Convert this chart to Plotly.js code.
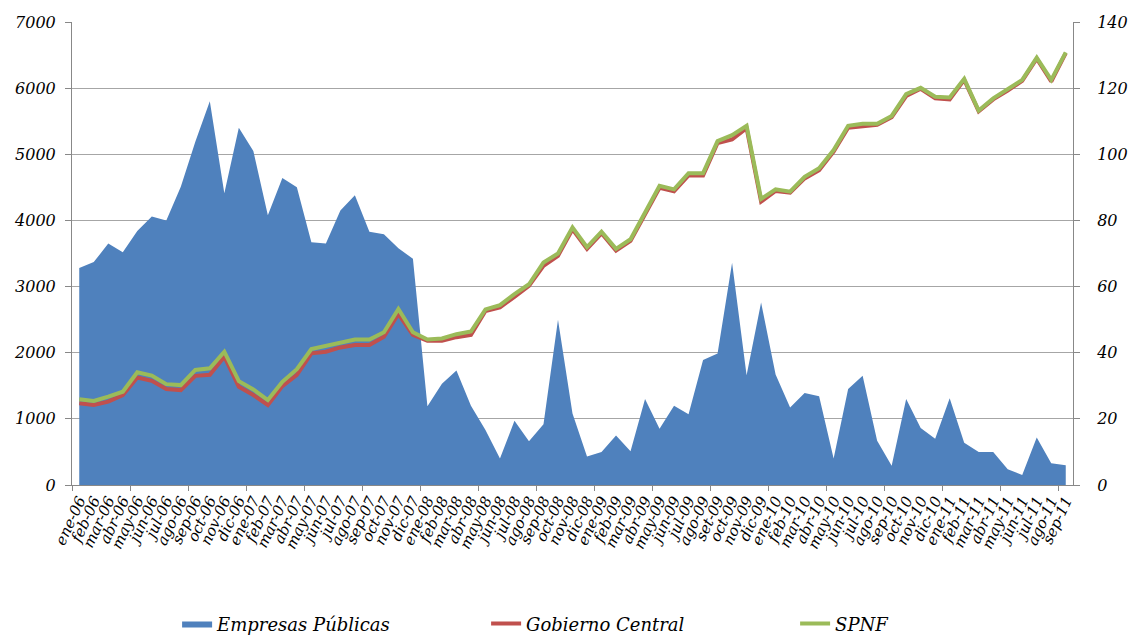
<!DOCTYPE html>
<html>
<head>
<meta charset="utf-8">
<script src="https://cdn.plot.ly/plotly-3.0.1.min.js"></script>
<style>html,body{margin:0;padding:0;background:#fff;}#chart{width:1132px;height:635px;}</style>
</head>
<body>
<div id="chart"></div>
<script>
const months = ["ene-06","feb-06","mar-06","abr-06","may-06","jun-06","jul-06","ago-06","sep-06","oct-06","nov-06","dic-06",
"ene-07","feb-07","mar-07","abr-07","may-07","jun-07","jul-07","ago-07","sep-07","oct-07","nov-07","dic-07",
"ene-08","feb-08","mar-08","abr-08","may-08","jun-08","jul-08","ago-08","sep-08","oct-08","nov-08","dic-08",
"ene-09","feb-09","mar-09","abr-09","may-09","jun-09","jul-09","ago-09","set-09","oct-09","nov-09","dic-09",
"ene-10","feb-10","mar-10","abr-10","may-10","jun-10","jul-10","ago-10","sep-10","oct-10","nov-10","dic-10",
"ene-11","feb-11","mar-11","abr-11","may-11","jun-11","jul-11","ago-11","sep-11"];

const empresasPublicas = [3280,3370,3650,3520,3840,4060,4000,4510,5190,5800,4410,5400,
5050,4080,4640,4500,3670,3650,4150,4380,3830,3790,3580,3420,
1190,1530,1730,1200,830,400,970,660,920,2500,1080,430,
500,750,510,1300,850,1200,1070,1890,1990,3360,1660,2760,
1670,1170,1390,1340,400,1450,1650,670,290,1300,860,700,
1310,640,500,500,240,150,720,330,300];

const gobiernoCentral = [24.7,24.2,25.2,27.2,32.5,31.5,29.0,28.7,33.0,33.3,38.8,29.7,
27.2,24.2,29.9,33.3,39.8,40.3,41.6,42.3,42.3,44.8,51.7,45.4,
43.6,43.6,44.7,45.4,52.6,53.7,56.9,60.2,66.3,69.3,77.3,71.4,
76.1,70.9,73.8,81.6,89.9,88.8,93.6,93.6,103.4,104.5,107.9,85.7,
88.9,88.4,92.7,95.2,100.8,108.0,108.6,108.9,111.2,117.6,119.8,116.9,
116.6,122.5,113.0,116.6,119.3,122.2,128.9,122.0,130.6];

const spnf = [25.9,25.4,26.7,28.2,34.1,33.1,30.5,30.2,34.8,35.3,40.3,31.4,
28.9,25.7,31.2,35.0,41.1,42.1,43.3,44.0,44.0,46.2,53.2,46.2,
44.0,44.3,45.6,46.4,53.1,54.4,57.7,60.7,67.3,70.0,77.9,71.9,
76.6,71.4,74.3,82.3,90.5,89.4,94.3,94.3,104.0,105.8,108.6,86.5,
89.4,88.7,93.2,95.8,101.3,108.6,109.2,109.2,111.6,118.2,120.1,117.4,
117.2,122.8,113.2,116.9,119.6,122.5,129.2,122.5,130.8];

const idx = months.map((m, i) => i);
const FONT = "DejaVu Serif, serif";

const traces = [
  {x: idx, y: empresasPublicas, name: "Empresas Públicas", type: "scatter", mode: "lines",
   fill: "tozeroy", fillcolor: "#4F81BD", line: {color: "#4F81BD", width: 0}, yaxis: "y"},
  {x: idx, y: gobiernoCentral, name: "Gobierno Central", type: "scatter", mode: "lines",
   line: {color: "#C0504D", width: 4}, yaxis: "y2"},
  {x: idx, y: spnf, name: "SPNF", type: "scatter", mode: "lines",
   line: {color: "#9BBB59", width: 4}, yaxis: "y2"}
];

const layout = {
  width: 1132, height: 635,
  margin: {l: 72, r: 59, t: 22, b: 150, autoexpand: false},
  paper_bgcolor: "#fff", plot_bgcolor: "#fff",
  showlegend: true,
  legend: {orientation: "h", x: 0.105, xanchor: "left", y: -0.300, yanchor: "middle",
           entrywidth: 264, entrywidthmode: "pixels",
           font: {family: FONT, size: 18, color: "#000", style: "italic"}},
  xaxis: {range: [-0.5, 68.5], tickmode: "array", tickvals: idx, ticktext: months, automargin: false,
          tickangle: -65, ticks: "", showgrid: false, zeroline: false,
          showline: true, linecolor: "#888", linewidth: 1,
          tickfont: {family: FONT, size: 15, color: "#000", style: "italic"},
          minor: {tickmode: "linear", tick0: -0.5, dtick: 4, ticks: "outside", ticklen: 5, tickcolor: "#888", showgrid: false}},
  yaxis: {range: [0, 7000], dtick: 1000, tick0: 0, showgrid: true, gridcolor: "#A6A6A6", gridwidth: 1, automargin: false,
          zeroline: false, showline: true, linecolor: "#888", ticks: "outside", ticklen: 6, tickcolor: "#888",
          ticklabelstandoff: 6,
          tickfont: {family: FONT, size: 16, color: "#000", style: "italic"}},
  yaxis2: {range: [0, 140], dtick: 20, tick0: 0, overlaying: "y", side: "right", showgrid: false, automargin: false,
           zeroline: false, showline: true, linecolor: "#888", ticks: "outside", ticklen: 6, tickcolor: "#888",
           ticklabelstandoff: 14,
           tickfont: {family: FONT, size: 16, color: "#000", style: "italic"}}
};

Plotly.newPlot("chart", traces, layout, {displayModeBar: false, staticPlot: true});
</script>
</body>
</html>
